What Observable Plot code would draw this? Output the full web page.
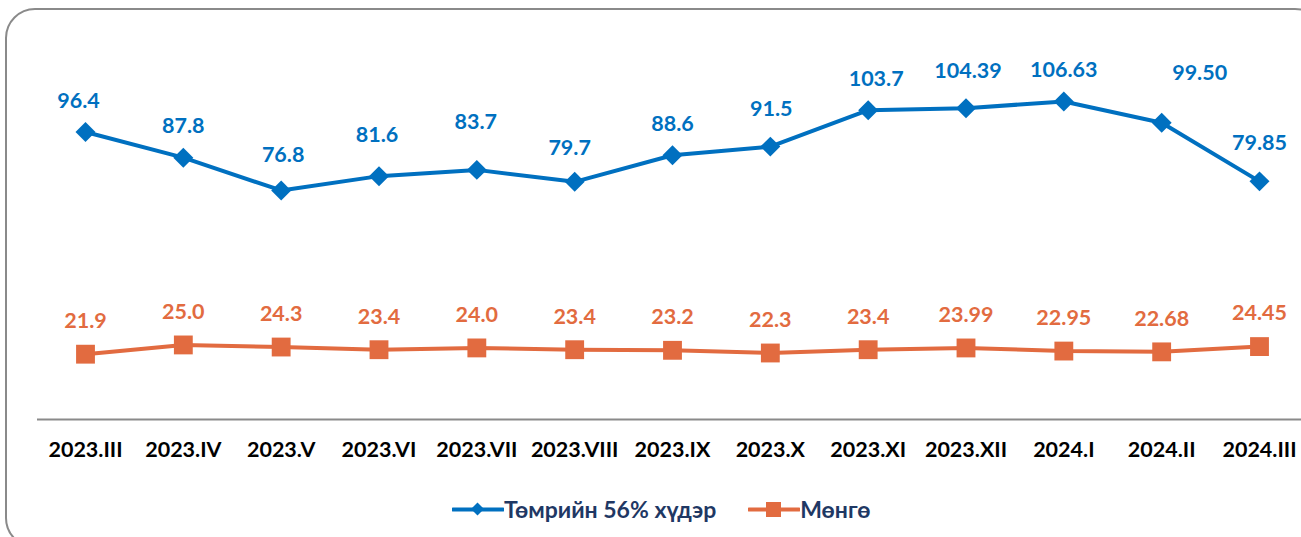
<!DOCTYPE html>
<html>
<head>
<meta charset="utf-8">
<script src="https://cdn.jsdelivr.net/npm/d3@7"></script>
<script src="https://cdn.jsdelivr.net/npm/@observablehq/plot@0.6"></script>
<style>
  html, body { margin: 0; padding: 0; background: #fff; overflow: hidden; }
  #wrap { position: relative; width: 1301px; height: 537px; overflow: hidden; font-family: Lato, "Open Sans", sans-serif; }
  #box { position: absolute; left: 5px; top: 8px; width: 1320px; height: 540px; border: 2px solid #8a8a8a; border-radius: 30px; box-sizing: border-box; }
  #chart { position: absolute; left: 0; top: 0; }
  #legend { position: absolute; left: 452px; top: 484px; display: flex; align-items: center; font-weight: 700; font-size: 23px; color: #1F3864; }
  .item { display: flex; align-items: center; margin-right: 32px; }
  .item svg { display: block; }
</style>
</head>
<body>
<div id="wrap">
  <div id="box"></div>
  <div id="chart"></div>
  <div id="legend"></div>
</div>
<script>
const periods = ["2023.III","2023.IV","2023.V","2023.VI","2023.VII","2023.VIII","2023.IX","2023.X","2023.XI","2023.XII","2024.I","2024.II","2024.III"];
const ironOre = [96.4, 87.8, 76.8, 81.6, 83.7, 79.7, 88.6, 91.5, 103.7, 104.39, 106.63, 99.50, 79.85];
const ironLabels = ["96.4","87.8","76.8","81.6","83.7","79.7","88.6","91.5","103.7","104.39","106.63","99.50","79.85"];
const silver = [21.9, 25.0, 24.3, 23.4, 24.0, 23.4, 23.2, 22.3, 23.4, 23.99, 22.95, 22.68, 24.45];
const silverLabels = ["21.9","25.0","24.3","23.4","24.0","23.4","23.2","22.3","23.4","23.99","22.95","22.68","24.45"];
const seriesNames = ["Төмрийн 56% хүдэр", "Мөнгө"];

// label placement offsets (layout only, in pixels)
const ironLabelDx = [-7, 0, 2, -2, -1, -5, 0, 1, 8, 2, 0, 38, 0];
const ironLabelDy = [-31, -32, -35, -41, -48, -34, -31, -38, -31, -37, -31, -50, -38];

const BLUE = "#0070C0";
const ORANGE = "#E26B40";

const iron = periods.map((p, i) => ({period: p, value: ironOre[i], label: ironLabels[i], dx: ironLabelDx[i], dy: ironLabelDy[i]}));
const silv = periods.map((p, i) => ({period: p, value: silver[i], label: silverLabels[i]}));

const pxPerUnit = (419 - 101) / 106.63;

const chart = Plot.plot({
  width: 1301,
  height: 480,
  marginLeft: 37,
  marginRight: 0,
  marginTop: 0,
  marginBottom: 61,
  style: {fontFamily: "Lato, 'Open Sans', sans-serif", background: "transparent", overflow: "visible"},
  x: {type: "point", domain: periods, range: [85, 1259], padding: 0, round: false},
  y: {domain: [0, 140], range: [419, 419 - 140 * pxPerUnit], axis: null},
  marks: [
    Plot.ruleY([0], {stroke: "#8a8a8a", strokeWidth: 2}),
    Plot.axisX({tickSize: 0, tickPadding: 22, fontSize: 21.5, fontWeight: 700, fill: "#000", label: null}),
    Plot.line(iron, {x: "period", y: "value", stroke: BLUE, strokeWidth: 4}),
    Plot.dot(iron, {x: "period", y: "value", symbol: "diamond2", r: 9, fill: BLUE, stroke: "none"}),
    Plot.line(silv, {x: "period", y: "value", stroke: ORANGE, strokeWidth: 4}),
    Plot.dot(silv, {x: "period", y: "value", symbol: "square2", r: 12, fill: ORANGE, stroke: "none"}),
    ...iron.map(d => Plot.text([d], {x: "period", y: "value", text: "label", dx: d.dx, dy: d.dy, fill: BLUE, fontSize: 21.5, fontWeight: 700})),
    Plot.text(silv, {x: "period", y: "value", text: "label", dy: -33, fill: ORANGE, fontSize: 21.5, fontWeight: 700})
  ]
});
document.getElementById("chart").appendChild(chart);

// legend
const legend = document.getElementById("legend");
const symbols = [
  {color: BLUE, shape: "diamond"},
  {color: ORANGE, shape: "square"}
];
seriesNames.forEach((name, i) => {
  const item = document.createElement("div");
  item.className = "item";
  const s = symbols[i];
  const marker = s.shape === "diamond"
    ? `<path d="M25.5,18.5 L32,25 L25.5,31.5 L19,25 Z" fill="${s.color}"/>`
    : `<rect x="18" y="18" width="15" height="15" fill="${s.color}"/>`;
  item.innerHTML = `<svg width="52" height="50"><line x1="1" y1="25.5" x2="51" y2="25.5" stroke="${s.color}" stroke-width="4" stroke-linecap="round"/>${marker}</svg><span>${name}</span>`;
  legend.appendChild(item);
});
</script>
</body>
</html>
